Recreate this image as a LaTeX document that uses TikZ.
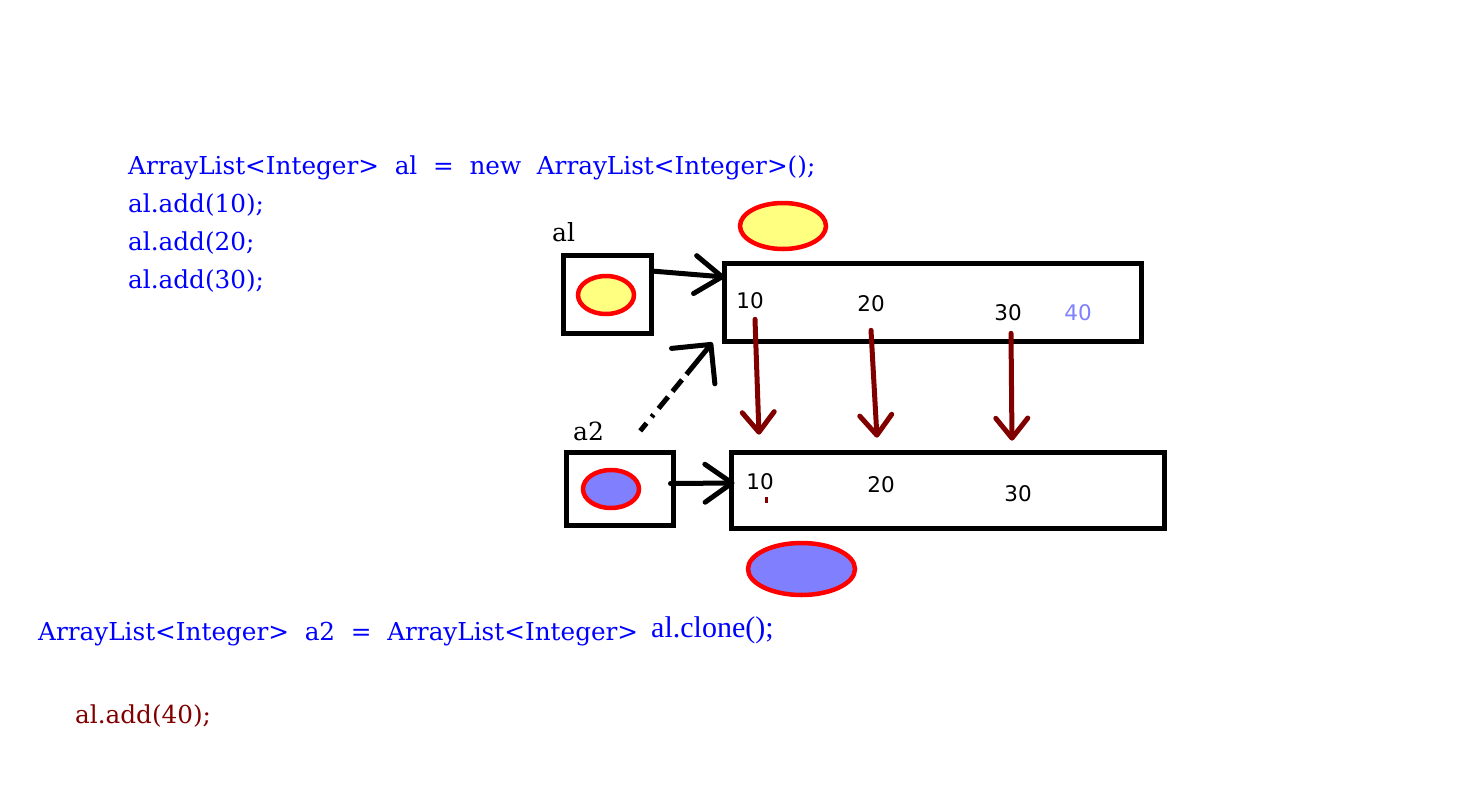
\documentclass[tikz,border=0pt]{standalone}
\usepackage{fontspec}
\newfontfamily\codefont{DejaVu Serif}
\newfontfamily\callfont{Liberation Serif}
\newfontfamily\cellfont{DejaVu Sans}
\usepackage{tikz}
\usetikzlibrary{arrows.meta,positioning,shapes.geometric}
\definecolor{CodeBlue}{HTML}{0000FF}
\definecolor{DarkRed}{HTML}{800000}
\definecolor{Pale}{HTML}{FFFF80}
\definecolor{Lilac}{HTML}{8080FF}
\definecolor{Outline}{HTML}{FF0000}
\tikzset{
  code/.style={anchor=base west,inner sep=0pt,text=CodeBlue,
    font=\codefont\fontsize{24.7}{30}\selectfont},
  varname/.style={anchor=base west,inner sep=0pt,
    font=\codefont\fontsize{25}{30}\selectfont},
  cell/.style={inner sep=0pt,font=\cellfont\fontsize{21.5}{25}\selectfont},
  refbox/.style={draw,line width=5pt,minimum width=88pt,minimum height=78pt},
  arrbox/.style={draw,line width=5pt,minimum height=78pt},
  obj/.style={ellipse,draw=Outline,line width=4.5pt,inner sep=0pt,
    minimum width=56pt,minimum height=38pt},
  ptr/.style={line width=5pt,line cap=round,
    -{Straight Barb[length=27pt,width=38pt,round]}},
  copyarrow/.style={ptr,draw=DarkRed,line width=5pt,
    -{Straight Barb[length=20pt,width=32pt,round]}},
  oldptr/.style={ptr,line cap=butt,
    dash pattern=on 10pt off 8pt on 3pt off 8pt on 15pt off 7pt on 15pt off 7pt on 40pt off 0pt,
    -{Straight Barb[length=28pt,width=56pt,round]}}
}
\begin{document}
\begin{tikzpicture}[x=1pt,y=-1pt]
  \useasboundingbox (0,0) rectangle (1481,795);
  % code, top
  \node[code] (decl) at (128,174) {ArrayList<Integer>\ \ al\ \ =\ \ new\ \ ArrayList<Integer>();};
  \node[code] (add10) at (128,212) {al.add(10);};
  \node[code] (add20) at (128,250) {al.add(20;};
  \node[code] (add30) at (128,288) {al.add(30);};

  % al and its list
  \node[refbox] (alref) at (607,294) {};
  \node[obj,fill=Pale] (alptr) at (606,295) {};
  \node[varname] (allbl) at (552,241) {al};
  \node[arrbox,minimum width=417pt] (toparr) at (932.5,302) {};
  \node[obj,fill=Pale,minimum width=86pt,minimum height=46pt] (alheap) at (783,226) {};
  \node[cell] (a10) at (750,301) {10};
  \node[cell] (a20) at (871,304) {20};
  \node[cell] (a30) at (1008,313) {30};
  \node[cell,text=Lilac] (a40) at (1078,313) {40};

  % a2 and the copy
  \node[refbox,minimum width=107pt,minimum height=73pt] (a2ref) at (619.5,488.5) {};
  \node[obj,fill=Lilac] (a2ptr) at (611,489) {};
  \node[varname] (a2lbl) at (573,440) {a2};
  \node[arrbox,minimum width=433pt,minimum height=76pt] (botarr) at (947.5,490) {};
  \node[obj,fill=Lilac,minimum width=107pt,minimum height=52pt] (a2heap) at (801.5,569) {};
  \node[cell] (b10) at (760,482) {10};
  \node[cell] (b20) at (881,485) {20};
  \node[cell] (b30) at (1018,494) {30};
  \draw[DarkRed,line width=3pt] (766,497) -- (766,503);

  % references
  \draw[ptr] ([xshift=-2pt,yshift=23pt]alref.east) -- ([xshift=3pt,yshift=25pt]toparr.west);
  \draw[ptr] ([xshift=-5pt,yshift=5pt]a2ref.east) -- ([xshift=6pt,yshift=7pt]botarr.west);
  \draw[oldptr] ([xshift=36pt]a2lbl.east) -- ([xshift=-9pt,yshift=1pt]toparr.south west);

  % copied values
  \draw[copyarrow] ([xshift=5pt,yshift=-10pt]a10.south) -- ([xshift=-1pt,yshift=39pt]b10.north);
  \draw[copyarrow] ([yshift=-18pt]a20.south) -- ([xshift=-4pt,yshift=39pt]b20.north);
  \draw[copyarrow] ([xshift=3pt,yshift=-12pt]a30.south) -- ([xshift=-6pt,yshift=45pt]b30.north);

  % code, bottom
  \node[code] (cloneln) at (38,640) {ArrayList<Integer>\ \ a2\ \ =\ \ ArrayList<Integer>};
  \node[code,font=\callfont\fontsize{30}{34}\selectfont] (clonecall) at (651,637) {al.clone();};
  \node[code,text=DarkRed] (add40) at (75,723) {al.add(40);};
\end{tikzpicture}
\end{document}
